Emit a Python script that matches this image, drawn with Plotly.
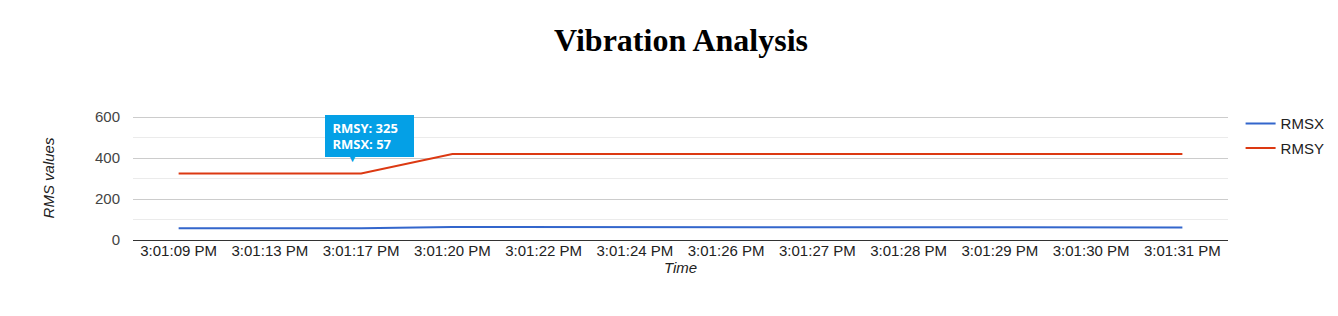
import plotly.graph_objects as go

times = ["3:01:09 PM", "3:01:13 PM", "3:01:17 PM", "3:01:20 PM", "3:01:22 PM", "3:01:24 PM",
         "3:01:26 PM", "3:01:27 PM", "3:01:28 PM", "3:01:29 PM", "3:01:30 PM", "3:01:31 PM"]
rmsx = [57, 57, 57, 64, 64, 64, 64, 61, 61, 61, 61, 61]
rmsy = [325, 325, 325, 420, 420, 420, 420, 420, 420, 420, 420, 420]
y_ticks = [0, 200, 400, 600]
tip_index = 2

fig = go.Figure()
fig.add_trace(go.Scatter(x=times, y=rmsx, name="RMSX", mode="lines",
                         line=dict(color="#3366cc", width=2), legendgroup="a"))
fig.add_trace(go.Scatter(x=times, y=rmsy, name="RMSY", mode="lines",
                         line=dict(color="#dc3912", width=2), legendgroup="b"))

tip_text = (f"&nbsp;<b>RMSY: {rmsy[tip_index]}</b><br>"
            f"&nbsp;<b>RMSX: {rmsx[tip_index]}</b>")
fig.add_annotation(x=times[tip_index], y=rmsy[tip_index], text=tip_text, showarrow=False,
                   xanchor="left", yanchor="bottom", xshift=-36, yshift=16, align="left",
                   width=81, height=34,
                   bgcolor="#04a0e6", borderpad=4, borderwidth=0,
                   font=dict(family="Open Sans, Arial", size=13, color="white"))
fig.add_annotation(x=times[tip_index], y=rmsy[tip_index], text="▼", showarrow=False,
                   xanchor="center", yanchor="bottom", xshift=-9, yshift=7,
                   font=dict(size=11, color="#04a0e6"))

fig.update_layout(
    width=1338, height=316,
    margin=dict(l=133, r=110, t=116, b=76, autoexpand=False),
    paper_bgcolor="white", plot_bgcolor="white",
    title=dict(text="<b>Vibration Analysis</b>", x=0.509, xanchor="center", y=0.875, yanchor="middle",
               font=dict(family="Liberation Serif, Times New Roman, serif", size=32, color="black")),
    font=dict(family="Arial, Liberation Sans, sans-serif", size=15, color="#444"),
    legend=dict(x=1.0115, xanchor="left", y=1.07, yanchor="top", traceorder="grouped",
                tracegroupgap=2, font=dict(size=15, color="#222"), bgcolor="rgba(0,0,0,0)"),
    xaxis=dict(type="category", range=[-0.5, len(times) - 0.5], showgrid=False,
               showline=True, linecolor="#333", linewidth=1, zeroline=False,
               tickfont=dict(size=15, color="#222"), ticklabelstandoff=-3,
               title=dict(text="<i>Time</i>", font=dict(size=15, color="#222"), standoff=0)),
    yaxis=dict(range=[0, 605], tickvals=y_ticks, gridcolor="#cccccc", gridwidth=1,
               zeroline=False, showline=False, ticklabelstandoff=12,
               tickfont=dict(size=15, color="#444"),
               minor=dict(dtick=100, showgrid=True, gridcolor="#ebebeb", gridwidth=1),
               title=dict(text="<i>RMS values</i>", font=dict(size=15, color="#222"), standoff=36)),
    hovermode=False,
)

fig.write_html("out.html")
